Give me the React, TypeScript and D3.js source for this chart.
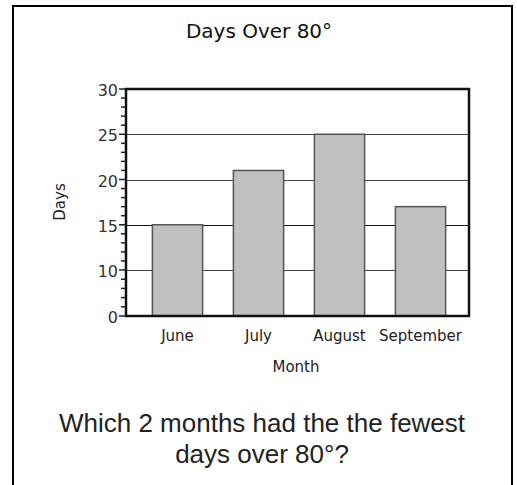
import React, { useEffect, useRef } from 'react';
import * as d3 from 'd3';

// Chart data
const months = ['June', 'July', 'August', 'September'];
const days = [15, 21, 25, 17];
// Broken y axis: 0 sits one step below 10
const yTicks = [0, 10, 15, 20, 25, 30];
const question = ['Which 2 months had the the fewest', 'days over 80°?'];

const App = () => {
    const svgRef = useRef<SVGSVGElement>(null);

    useEffect(() => {
        const svg = d3.select(svgRef.current);
        svg.selectAll('*').remove();

        const font = 'Tahoma, "DejaVu Sans", sans-serif';
        const plot = { left: 126, right: 469, top: 89, bottom: 316 };

        // Outer card border (open at the bottom)
        svg.append('path')
            .attr('d', 'M13,490 L13,6 L512,6 L512,490')
            .attr('fill', 'none')
            .attr('stroke', '#000')
            .attr('stroke-width', 2);

        const xScale = d3.scaleBand()
            .domain(months)
            .range([137, 461])
            .paddingInner(0.38)
            .paddingOuter(0.19);

        // Piecewise scale for the axis break between 0 and 10
        const yScale = d3.scaleLinear()
            .domain([0, 10, 30])
            .range([plot.bottom, 270, plot.top]);

        // Grid lines
        svg.append('g')
            .selectAll('line')
            .data([10, 15, 20, 25])
            .enter()
            .append('line')
            .attr('x1', plot.left)
            .attr('x2', plot.right)
            .attr('y1', d => Math.round(yScale(d)) + 0.5)
            .attr('y2', d => Math.round(yScale(d)) + 0.5)
            .attr('stroke', d => (d === 15 ? '#111' : '#444'))
            .attr('stroke-width', 1);

        // Bars
        svg.selectAll('.bar')
            .data(months)
            .enter()
            .append('rect')
            .attr('class', 'bar')
            .attr('x', d => xScale(d)!)
            .attr('y', (d, i) => yScale(days[i]))
            .attr('width', xScale.bandwidth())
            .attr('height', (d, i) => plot.bottom - yScale(days[i]))
            .attr('fill', '#c0c0c0')
            .attr('stroke', '#555')
            .attr('stroke-width', 1.5);

        // Minor ticks: every 2 below 10, every 1 above
        const minor = d3.range(0, 10, 2).concat(d3.range(10, 31, 1)).filter(v => !yTicks.includes(v));
        svg.append('g')
            .selectAll('line')
            .data(minor)
            .enter()
            .append('line')
            .attr('x1', plot.left - 5)
            .attr('x2', plot.left)
            .attr('y1', d => yScale(d))
            .attr('y2', d => yScale(d))
            .attr('stroke', '#222')
            .attr('stroke-width', 1.5);

        // Major ticks and labels
        const yAxis = svg.append('g');
        yAxis.selectAll('line')
            .data(yTicks)
            .enter()
            .append('line')
            .attr('x1', plot.left - 7)
            .attr('x2', plot.left)
            .attr('y1', d => yScale(d))
            .attr('y2', d => yScale(d))
            .attr('stroke', '#222')
            .attr('stroke-width', 1.5);
        yAxis.selectAll('text')
            .data(yTicks)
            .enter()
            .append('text')
            .attr('x', 118)
            .attr('y', d => yScale(d) + 7)
            .attr('text-anchor', 'end')
            .attr('font-family', font)
            .attr('font-size', '16px')
            .attr('fill', '#333')
            .text(d => d);

        // Plot frame
        svg.append('rect')
            .attr('x', plot.left)
            .attr('y', plot.top)
            .attr('width', plot.right - plot.left)
            .attr('height', plot.bottom - plot.top)
            .attr('fill', 'none')
            .attr('stroke', '#111')
            .attr('stroke-width', 2.5);

        // X labels
        svg.append('g')
            .selectAll('text')
            .data(months)
            .enter()
            .append('text')
            .attr('x', d => xScale(d)! + xScale.bandwidth() / 2)
            .attr('y', 341)
            .attr('text-anchor', 'middle')
            .attr('font-family', font)
            .attr('font-size', '15px')
            .attr('fill', '#222')
            .text(d => d);

        // Axis titles
        svg.append('text')
            .attr('x', 296)
            .attr('y', 372)
            .attr('text-anchor', 'middle')
            .attr('font-family', font)
            .attr('font-size', '15px')
            .attr('fill', '#222')
            .text('Month');
        svg.append('text')
            .attr('transform', 'translate(65,202) rotate(-90)')
            .attr('text-anchor', 'middle')
            .attr('font-family', font)
            .attr('font-size', '15px')
            .attr('fill', '#222')
            .text('Days');

        // Chart title
        svg.append('text')
            .attr('x', 259)
            .attr('y', 38)
            .attr('text-anchor', 'middle')
            .attr('font-family', font)
            .attr('font-size', '20px')
            .attr('fill', '#111')
            .text('Days Over 80°');

        // Question text
        svg.append('g')
            .selectAll('text')
            .data(question)
            .enter()
            .append('text')
            .attr('x', 262)
            .attr('y', (d, i) => 432 + i * 31)
            .attr('text-anchor', 'middle')
            .attr('font-family', 'Arial, "Liberation Sans", sans-serif')
            .attr('font-size', '26px')
            .attr('fill', '#222')
            .text(d => d);
    }, []);

    return (
        <svg ref={svgRef} width={517} height={485}
            style={{ position: 'absolute', left: 0, top: 0, background: '#fff' }} />
    );
};

export default App;
